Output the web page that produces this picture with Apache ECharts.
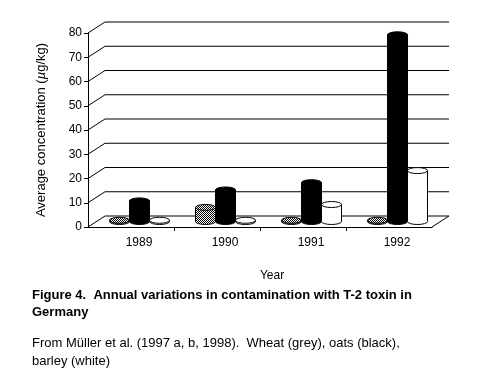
<!DOCTYPE html>
<html><head><meta charset="utf-8">
<script src="https://cdn.jsdelivr.net/npm/echarts@6/dist/echarts.min.js"></script>
<style>html,body{margin:0;padding:0;background:#fff}#c{width:492px;height:385px}</style>
</head><body><div id="c"></div>
<script>
var categories = ['1989', '1990', '1991', '1992'];
var wheat = [0.5, 5.8, 0.5, 0.5];
var oats = [8.5, 13, 16, 77];
var barley = [0.5, 0.5, 7, 21];
var yTicks = [0, 10, 20, 30, 40, 50, 60, 70, 80];

var DX = 17, DY = 11, BW = 20, RY = 3;
var FONT = 'Liberation Sans, Arial, sans-serif';

var pc = document.createElement('canvas');
pc.width = 2; pc.height = 2;
var g = pc.getContext('2d');
g.fillStyle = '#fff'; g.fillRect(0, 0, 2, 2);
g.fillStyle = '#000'; g.fillRect(0, 0, 1, 1); g.fillRect(1, 1, 1, 1);
var greyPattern = { image: pc, repeat: 'repeat' };

function wallItem(params, api) {
  var cs = params.coordSys;
  var v = api.value(0);
  var y = api.coord([0, v])[1];
  var x0 = cs.x, x1 = cs.x + cs.width;
  var pts;
  if (v === 0) {
    pts = [[x0, y], [x0 + DX, y - DY], [x1 + DX, y - DY], [x1, y]];
  } else {
    pts = [[x0, y], [x0 + DX, y - DY], [x1 + DX, y - DY]];
  }
  return { type: 'polyline', shape: { points: pts }, style: { stroke: '#000', lineWidth: 1, fill: null } };
}

function tickItem(params, api) {
  var ci = api.value(0);
  if (ci === 0) return null;
  var p = api.coord([ci, 0]);
  var half = api.size([1, 0])[0] / 2;
  var x = Math.round(p[0] - half) + 0.5;
  return { type: 'line', shape: { x1: x, y1: p[1], x2: x, y2: p[1] + 4 }, style: { stroke: '#000', lineWidth: 1 } };
}

function cylinder(offsetIdx, fill) {
  return function (params, api) {
    var ci = api.value(0), v = api.value(1);
    var base = api.coord([ci, 0]);
    var top = api.coord([ci, v]);
    var cx = base[0] + DX / 2 + offsetIdx * BW;
    var by = base[1] - DY / 2;
    var ty = top[1] - DY / 2;
    var r = BW / 2;
    var body = 'M' + (cx - r) + ' ' + ty + ' L' + (cx - r) + ' ' + by +
      ' A' + r + ' ' + RY + ' 0 0 0 ' + (cx + r) + ' ' + by +
      ' L' + (cx + r) + ' ' + ty + ' Z';
    var cap = 'M' + (cx - r) + ' ' + ty + ' A' + r + ' ' + RY + ' 0 1 0 ' + (cx + r) + ' ' + ty +
      ' A' + r + ' ' + RY + ' 0 1 0 ' + (cx - r) + ' ' + ty + ' Z';
    return { type: 'group', children: [
      { type: 'path', shape: { pathData: body }, style: { fill: fill, stroke: '#000', lineWidth: 1 } },
      { type: 'path', shape: { pathData: cap }, style: { fill: fill, stroke: '#000', lineWidth: 1 } }
    ] };
  };
}

function toData(arr) { return arr.map(function (v, i) { return [i, v]; }); }

var chart = echarts.init(document.getElementById('c'), null, { renderer: 'canvas' });
chart.setOption({
  animation: false,
  backgroundColor: '#fff',
  textStyle: { fontFamily: FONT },
  title: [
    { text: 'Figure 4.  Annual variations in contamination with T-2 toxin in\nGermany', left: 32, top: 287, padding: 0,
      textStyle: { fontFamily: FONT, fontSize: 13, fontWeight: 'bold', color: '#000', lineHeight: 17 } },
    { text: 'From Müller et al. (1997 a, b, 1998).  Wheat (grey), oats (black),\nbarley (white)', left: 32, top: 334, padding: 0,
      textStyle: { fontFamily: FONT, fontSize: 13, fontWeight: 'normal', color: '#000', lineHeight: 18 } }
  ],
  grid: { left: 88, right: 60, top: 33, bottom: 158 },
  xAxis: {
    type: 'category', data: categories,
    name: 'Year', nameLocation: 'middle', nameGap: 43,
    nameTextStyle: { fontFamily: FONT, fontSize: 12, color: '#000', padding: [0, 0, 0, 24] },
    axisLine: { lineStyle: { color: '#000', width: 1 } },
    axisTick: { show: false },
    axisLabel: { fontFamily: FONT, fontSize: 12, color: '#000', margin: 10, padding: [0, 0, 0, 16] },
    splitLine: { show: false }
  },
  yAxis: {
    type: 'value', min: 0, max: 80, interval: 10,
    name: 'Average concentration ({i|µ}g/kg)', nameLocation: 'middle', nameGap: 40, nameRotate: 90,
    nameTextStyle: { fontFamily: FONT, fontSize: 13, color: '#000',
      rich: { i: { fontFamily: FONT, fontSize: 13, fontStyle: 'italic', color: '#000' } } },
    axisLine: { show: true, lineStyle: { color: '#000', width: 1 } },
    axisTick: { show: true, length: 4, lineStyle: { color: '#000' } },
    axisLabel: { fontFamily: FONT, fontSize: 12, color: '#000', margin: 6 },
    splitLine: { show: false }
  },
  series: [
    { type: 'custom', renderItem: wallItem, data: yTicks.map(function (v) { return [v]; }),
      encode: { y: 0 }, silent: true, z: 1 },
    { type: 'custom', renderItem: tickItem, data: toData(categories.map(function () { return 0; })),
      encode: { x: 0, y: 1 }, silent: true, z: 1 },
    { name: 'Wheat', type: 'custom', renderItem: cylinder(-1, greyPattern), data: toData(wheat), encode: { x: 0, y: 1 }, z: 3 },
    { name: 'Oats', type: 'custom', renderItem: cylinder(0, '#000'), data: toData(oats), encode: { x: 0, y: 1 }, z: 3 },
    { name: 'Barley', type: 'custom', renderItem: cylinder(1, '#fff'), data: toData(barley), encode: { x: 0, y: 1 }, z: 3 }
  ]
});
</script></body></html>
